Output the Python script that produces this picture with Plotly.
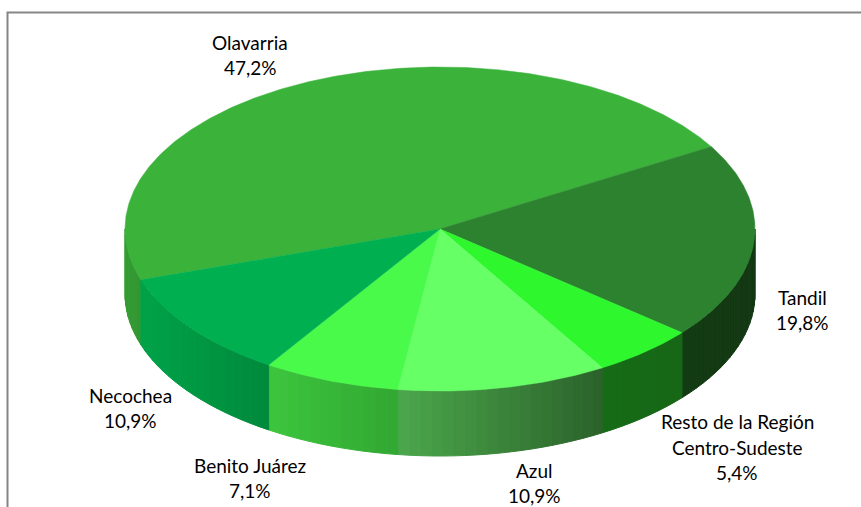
import math
import plotly.graph_objects as go

# ---------------- data ----------------
categories = ["Olavarria", "Tandil", "Resto de la Región Centro-Sudeste", "Azul", "Benito Juárez", "Necochea"]
label_lines = [["Olavarria"], ["Tandil"], ["Resto de la Región", "Centro-Sudeste"], ["Azul"], ["Benito Juárez"], ["Necochea"]]
shares = [47.2, 19.8, 5.4, 10.9, 7.1, 10.9]
pct_text = ["47,2%", "19,8%", "5,4%", "10,9%", "7,1%", "10,9%"]

# ---------------- style ----------------
W, H = 861, 507
CX, CY, RX, RY, DEPTH = 440, 229, 315, 162, 65
START = 198.3  # degrees, slices run clockwise
top_colors = ["#3bb33b", "#2d8230", "#2ef72e", "#66ff66", "#4afa4a", "#00b050"]
side_left = [(52, 158, 50), (20, 60, 20), (23, 108, 23), (76, 168, 76), (62, 198, 62), (0, 163, 73)]
side_right = [(52, 150, 50), (19, 56, 19), (22, 104, 22), (43, 98, 43), (50, 168, 50), (0, 138, 60)]
label_pos = [(250, [42, 67]), (802, [297, 322]), (737, [421, 447, 472]),
             (534, [470, 495]), (250, [465, 490]), (130, [395, 420])]
FONT = "Lato"
FSIZE = 19


def pt(a_deg, dy=0.0):
    a = math.radians(a_deg)
    return CX + RX * math.cos(a), CY - RY * math.sin(a) + dy


def rgb(c):
    return "rgb(%d,%d,%d)" % c


fig = go.Figure()

total = sum(shares)
angles = []
cum = 0.0
for v in shares:
    a0 = START - cum / total * 360.0
    a1 = START - (cum + v) / total * 360.0
    angles.append((a1, a0))
    cum += v

# side faces (front half only), drawn as vertical gradient strips
for i, (lo, hi) in enumerate(angles):
    segs = []
    for wlo, whi in [(-540, -360), (-180, 0), (180, 360)]:
        s, e = max(lo, wlo), min(hi, whi)
        if e > s:
            segs.append((s, e))
    for s, e in segs:
        n = max(2, int((e - s) / 2.0))
        xs_all = [pt(e)[0], pt(s)[0]]
        xl, xr = min(xs_all), max(xs_all)
        for k in range(n):
            b0 = e - (e - s) * k / n
            b1 = e - (e - s) * (k + 1) / n
            xmid = (pt(b0)[0] + pt(b1)[0]) / 2
            f = 0.0 if xr == xl else (xmid - xl) / (xr - xl)
            c = tuple(side_left[i][j] + (side_right[i][j] - side_left[i][j]) * f for j in range(3))
            m = 6
            arc = [b0 + (b1 - b0) * t / m for t in range(m + 1)]
            xs = [pt(a)[0] for a in arc] + [pt(a, DEPTH)[0] for a in reversed(arc)]
            ys = [pt(a)[1] for a in arc] + [pt(a, DEPTH)[1] for a in reversed(arc)]
            fig.add_trace(go.Scatter(x=xs + [xs[0]], y=ys + [ys[0]], mode="lines", fill="toself",
                                     fillcolor=rgb(c), line=dict(color=rgb(c), width=1),
                                     hoverinfo="skip", showlegend=False))

# top faces
for i, (lo, hi) in enumerate(angles):
    n = max(8, int((hi - lo) * 2))
    arc = [hi - (hi - lo) * t / n for t in range(n + 1)]
    xs = [CX] + [pt(a)[0] for a in arc] + [CX]
    ys = [CY] + [pt(a)[1] for a in arc] + [CY]
    fig.add_trace(go.Scatter(x=xs, y=ys, mode="lines", fill="toself", fillcolor=top_colors[i],
                             line=dict(color=top_colors[i], width=0.5), name=categories[i],
                             hovertemplate=categories[i] + ": " + pct_text[i] + "<extra></extra>",
                             showlegend=False))

# labels
for i, (lx, lys) in enumerate(label_pos):
    lines = label_lines[i] + [pct_text[i]]
    for txt, ly in zip(lines, lys):
        fig.add_annotation(x=lx, y=ly, text=txt, showarrow=False, xref="x", yref="y",
                           xanchor="center", yanchor="middle",
                           font=dict(family=FONT, size=FSIZE, color="#000000"))

# chart frame
fig.add_shape(type="rect", xref="x", yref="y", x0=7.5, y0=12.5, x1=W + 20, y1=H + 20,
              line=dict(color="#868686", width=2), fillcolor="rgba(0,0,0,0)")

fig.update_layout(
    width=W, height=H, margin=dict(l=0, r=0, t=0, b=0),
    paper_bgcolor="white", plot_bgcolor="white",
    xaxis=dict(range=[0, W], visible=False, fixedrange=True),
    yaxis=dict(range=[H, 0], visible=False, fixedrange=True),
)

fig.write_html("out.html", config={"displayModeBar": False},
               post_script="document.body.style.margin='0px';document.body.style.overflow='hidden';")
